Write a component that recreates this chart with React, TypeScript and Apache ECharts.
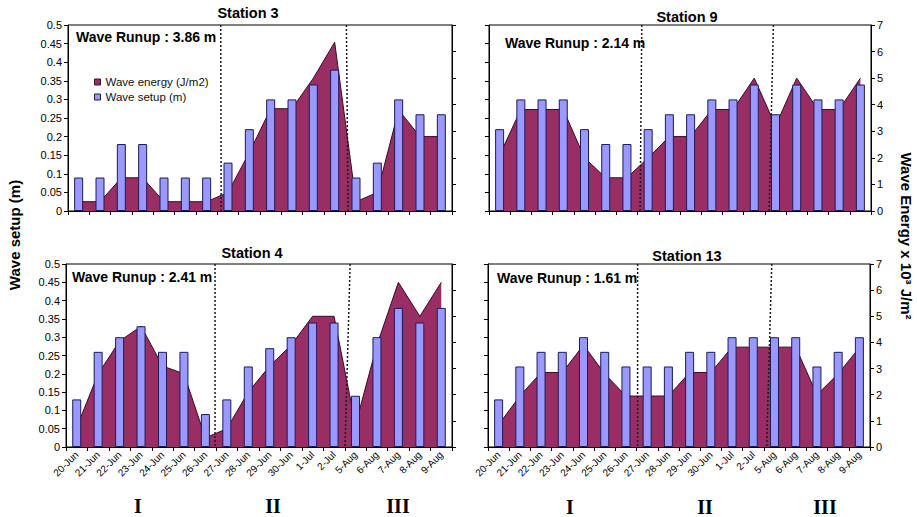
import React, { useEffect, useRef } from "react";
import * as echarts from "echarts";

const CATEGORIES = ["20-Jun", "21-Jun", "22-Jun", "23-Jun", "24-Jun", "25-Jun", "26-Jun", "27-Jun", "28-Jun", "29-Jun", "30-Jun", "1-Jul", "2-Jul", "5-Aug", "6-Aug", "7-Aug", "8-Aug", "9-Aug"];

const STATION_NAMES = ["Station 3", "Station 9", "Station 4", "Station 13"];
const RUNUP_TEXTS = ["Wave Runup : 3.86 m", "Wave Runup : 2.14 m", "Wave Runup : 2.41 m", "Wave Runup : 1.61 m"];

// Wave setup (m) – left axis
const SETUP_S3 = [0.09, 0.09, 0.18, 0.18, 0.09, 0.09, 0.09, 0.13, 0.22, 0.30, 0.30, 0.34, 0.38, 0.09, 0.13, 0.30, 0.26, 0.26];
const SETUP_S9 = [0.22, 0.30, 0.30, 0.30, 0.22, 0.18, 0.18, 0.22, 0.26, 0.26, 0.30, 0.30, 0.34, 0.26, 0.34, 0.30, 0.30, 0.34];
const SETUP_S4 = [0.13, 0.26, 0.30, 0.33, 0.26, 0.26, 0.09, 0.13, 0.22, 0.27, 0.30, 0.34, 0.34, 0.14, 0.30, 0.38, 0.34, 0.38];
const SETUP_S13 = [0.13, 0.22, 0.26, 0.26, 0.30, 0.26, 0.22, 0.22, 0.22, 0.26, 0.26, 0.30, 0.30, 0.30, 0.30, 0.22, 0.26, 0.30];

// Wave energy (x10^3 J/m2) – right axis
const ENERGY_S3 = [0.35, 0.35, 1.25, 1.25, 0.35, 0.35, 0.35, 0.7, 2.2, 3.85, 3.85, 5.0, 6.35, 0.35, 0.7, 3.8, 2.8, 2.8];
const ENERGY_S9 = [2.1, 3.82, 3.82, 3.82, 2.0, 1.25, 1.25, 2.0, 2.8, 2.8, 3.82, 3.82, 5.0, 3.2, 5.0, 3.82, 3.82, 5.0];
const ENERGY_S4 = [0.75, 2.8, 4.05, 4.62, 3.1, 2.8, 0.35, 0.7, 2.1, 3.1, 3.9, 5.0, 5.0, 0.85, 3.9, 6.3, 5.0, 6.3];
const ENERGY_S13 = [0.85, 1.95, 2.85, 2.85, 3.9, 2.8, 1.95, 1.95, 1.95, 2.85, 2.85, 3.82, 3.82, 3.82, 3.82, 2.0, 2.8, 3.8];

// Period dividers: [index at top, index at bottom] (category units)
const DIVIDERS_S3 = [[6.66, 6.68], [12.55, 12.63]];
const DIVIDERS_S9 = [[6.7, 6.62], [12.9, 12.7]];
const DIVIDERS_S4 = [[6.45, 6.45], [12.75, 12.51]];
const DIVIDERS_S13 = [[6.55, 6.55], [12.87, 12.63]];

const SETUP_TICKS = { min: 0, max: 0.5, interval: 0.05 };
const ENERGY_TICKS = { min: 0, max: 7, interval: 1 };

const PERIODS = ["I", "II", "III"];

const SETUP = [SETUP_S3, SETUP_S9, SETUP_S4, SETUP_S13];
const ENERGY = [ENERGY_S3, ENERGY_S9, ENERGY_S4, ENERGY_S13];
const DIVIDERS = [DIVIDERS_S3, DIVIDERS_S9, DIVIDERS_S4, DIVIDERS_S13];

const FONT = "'Liberation Sans', Arial, sans-serif";
const MAROON = "#982e63";
const LAVENDER = "#9999ff";

const GRIDS = [
  { left: 68, top: 25, width: 384, height: 186 },
  { left: 489, top: 25, width: 382, height: 186 },
  { left: 66, top: 264, width: 386, height: 183 },
  { left: 488, top: 264, width: 382, height: 183 },
];
const TITLE_POS = [[248, 13], [687, 16.5], [252, 253], [687, 255.5]];
const RUNUP_POS = [[76, 37], [505, 43], [72, 277], [497, 278]];
const PERIOD_POS = [[[138, 506], [273, 506], [398, 506]], [[570, 507], [705, 507], [825, 507]]];

export default function App() {
  const ref = useRef<HTMLDivElement>(null);
  useEffect(() => {
    if (!ref.current) return;
    const chart = echarts.init(ref.current, null, { renderer: "svg" });

    const xAxis: any[] = [];
    const yAxis: any[] = [];
    const series: any[] = [];
    const graphic: any[] = [];

    for (let s = 0; s < 4; s++) {
      const isBottom = s >= 2;
      const isLeft = s % 2 === 0;
      xAxis.push({
        type: "category",
        gridIndex: s,
        data: CATEGORIES,
        boundaryGap: true,
        axisLine: { show: true, lineStyle: { color: "#000", width: 1 } },
        axisTick: { show: true, interval: 0, length: 4, lineStyle: { color: "#000" } },
        axisLabel: {
          show: isBottom,
          interval: 0,
          rotate: 45,
          fontSize: 10,
          color: "#000",
          fontFamily: FONT,
          margin: 6,
        },
        splitLine: { show: false },
      });
      yAxis.push({
        type: "value",
        gridIndex: s,
        position: "left",
        ...SETUP_TICKS,
        axisLine: { show: true, lineStyle: { color: "#000", width: 1 } },
        axisTick: { show: true, length: 4, lineStyle: { color: "#000" } },
        axisLabel: { show: isLeft, fontSize: 11, color: "#000", fontFamily: FONT, margin: 6 },
        splitLine: { show: false },
      });
      yAxis.push({
        type: "value",
        gridIndex: s,
        position: "right",
        ...ENERGY_TICKS,
        axisLine: { show: true, lineStyle: { color: "#000", width: 1 } },
        axisTick: { show: true, length: 4, lineStyle: { color: "#000" } },
        axisLabel: { show: !isLeft, fontSize: 11, color: "#000", fontFamily: FONT, margin: 6 },
        splitLine: { show: false },
      });

      series.push({
        name: "Wave energy (J/m2)",
        type: "line",
        xAxisIndex: s,
        yAxisIndex: 2 * s + 1,
        data: ENERGY[s],
        symbol: "none",
        lineStyle: { color: "#3a0c24", width: 1 },
        itemStyle: { color: MAROON },
        areaStyle: { color: MAROON, opacity: 1 },
        z: 2,
        silent: true,
      });
      series.push({
        name: "Wave setup (m)",
        type: "bar",
        xAxisIndex: s,
        yAxisIndex: 2 * s,
        data: SETUP[s],
        barWidth: 9,
        itemStyle: { color: LAVENDER, borderColor: "#1c1c55", borderWidth: 1 },
        z: 3,
        silent: true,
      });
      const divs = DIVIDERS[s];
      series.push({
        name: "dividers" + s,
        type: "custom",
        xAxisIndex: s,
        yAxisIndex: 2 * s,
        data: divs.map((_d, i) => i),
        silent: true,
        z: 5,
        renderItem: (params: any, api: any) => {
          const d = divs[params.dataIndex];
          const cs = params.coordSys;
          const w = api.size([1, 0])[0];
          const x0 = api.coord([0, 0])[0];
          return {
            type: "line",
            shape: { x1: x0 + d[0] * w, y1: cs.y, x2: x0 + d[1] * w, y2: cs.y + cs.height },
            style: { stroke: "#1a1a1a", lineWidth: 1.5, lineDash: [2, 2], fill: null },
          };
        },
      });

      graphic.push({
        type: "text",
        x: TITLE_POS[s][0],
        y: TITLE_POS[s][1],
        style: { text: STATION_NAMES[s], font: `bold 14.5px ${FONT}`, fill: "#000", align: "center", verticalAlign: "middle" },
        z: 10,
      });
      graphic.push({
        type: "text",
        x: RUNUP_POS[s][0],
        y: RUNUP_POS[s][1],
        style: { text: RUNUP_TEXTS[s], font: `bold 14px ${FONT}`, fill: "#000", align: "left", verticalAlign: "middle" },
        z: 10,
      });
    }

    PERIOD_POS.forEach((row) =>
      row.forEach((p, i) =>
        graphic.push({
          type: "text",
          x: p[0],
          y: p[1],
          style: { text: PERIODS[i], font: "bold 20px 'Liberation Serif', 'Times New Roman', serif", fill: "#000", align: "center", verticalAlign: "middle" },
        })
      )
    );

    graphic.push({
      type: "text",
      x: 14,
      y: 235,
      rotation: Math.PI / 2,
      style: { text: "Wave setup (m)", font: `bold 15px ${FONT}`, fill: "#000", align: "center", verticalAlign: "middle" },
    });
    graphic.push({
      type: "text",
      x: 906,
      y: 236,
      rotation: -Math.PI / 2,
      style: { text: "Wave Energy x 10³ J/m²", font: `bold 15px ${FONT}`, fill: "#000", align: "center", verticalAlign: "middle" },
    });

    chart.setOption({
      animation: false,
      backgroundColor: "#fff",
      textStyle: { fontFamily: FONT },
      grid: GRIDS.map((g) => ({ ...g, show: true, borderColor: "#000", borderWidth: 1, backgroundColor: "transparent", containLabel: false })),
      xAxis,
      yAxis,
      legend: {
        show: true,
        orient: "vertical",
        left: 94,
        top: 76,
        padding: 0,
        itemWidth: 6,
        itemHeight: 6,
        itemGap: 3,
        textStyle: { fontSize: 11.5, color: "#111", fontFamily: FONT },
        selectedMode: false,
        data: [
          { name: "Wave energy (J/m2)", icon: "rect", itemStyle: { color: MAROON, borderColor: "#222", borderWidth: 1 } },
          { name: "Wave setup (m)", icon: "rect", itemStyle: { color: LAVENDER, borderColor: "#222", borderWidth: 1 } },
        ],
      },
      series,
      graphic,
    });

    return () => chart.dispose();
  }, []);

  return (
    <div
      ref={ref}
      style={{ position: "fixed", left: 0, top: 0, width: 917, height: 517, background: "#fff" }}
    />
  );
}
